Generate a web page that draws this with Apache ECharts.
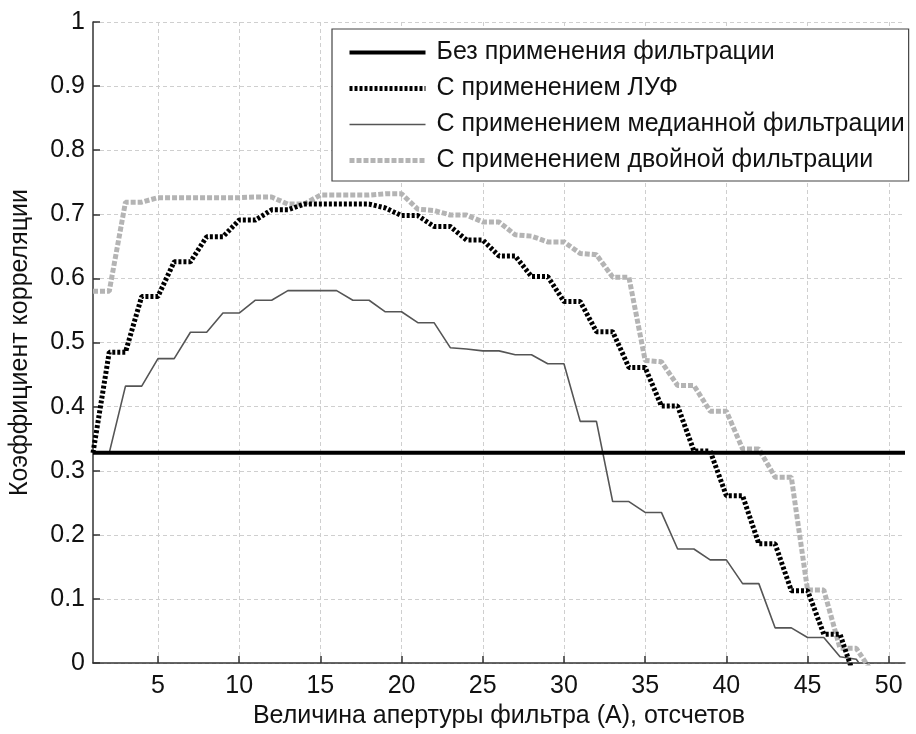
<!DOCTYPE html>
<html>
<head>
<meta charset="utf-8">
<script src="https://cdn.jsdelivr.net/npm/echarts@6/dist/echarts.min.js"></script>
<style>
html,body{margin:0;padding:0;background:#fff;}
#chart{width:916px;height:734px;}
</style>
</head>
<body>
<div id="chart"></div>
<script>
// Aperture values (x)
const apertureX = [1,2,3,4,5,6,7,8,9,10,11,12,13,14,15,16,17,18,19,20,21,22,23,24,25,26,27,28,29,30,31,32,33,34,35,36,37,38,39,40,41,42,43,44,45,46,47,48,49,50,51];
// Без применения фильтрации
const noFilter = [0.328,0.328,0.328,0.328,0.328,0.328,0.328,0.328,0.328,0.328,0.328,0.328,0.328,0.328,0.328,0.328,0.328,0.328,0.328,0.328,0.328,0.328,0.328,0.328,0.328,0.328,0.328,0.328,0.328,0.328,0.328,0.328,0.328,0.328,0.328,0.328,0.328,0.328,0.328,0.328,0.328,0.328,0.328,0.328,0.328,0.328,0.328,0.328,0.328,0.328,0.328];
// С применением ЛУФ
const lufFilter = [0.328,0.485,0.485,0.572,0.572,0.626,0.626,0.665,0.665,0.691,0.691,0.707,0.707,0.716,0.716,0.716,0.716,0.716,0.710,0.698,0.698,0.681,0.681,0.660,0.660,0.635,0.635,0.603,0.603,0.564,0.564,0.517,0.517,0.461,0.461,0.401,0.401,0.331,0.331,0.261,0.261,0.186,0.186,0.113,0.113,0.045,0.045,-0.03,null,null,null];
// С применением медианной фильтрации
const medianFilter = [0.328,0.328,0.432,0.432,0.475,0.475,0.516,0.516,0.546,0.546,0.566,0.566,0.581,0.581,0.581,0.581,0.566,0.566,0.548,0.548,0.531,0.531,0.492,0.490,0.487,0.487,0.481,0.481,0.467,0.467,0.377,0.377,0.252,0.252,0.235,0.235,0.178,0.178,0.161,0.161,0.124,0.124,0.055,0.055,0.040,0.040,0.010,0.006,-0.03,null,null];
// С применением двойной фильтрации
const doubleFilter = [0.580,0.580,0.719,0.719,0.726,0.726,0.726,0.726,0.726,0.726,0.727,0.727,0.716,0.716,0.730,0.730,0.730,0.730,0.732,0.732,0.708,0.706,0.699,0.699,0.688,0.688,0.668,0.666,0.657,0.657,0.639,0.637,0.602,0.602,0.472,0.470,0.433,0.433,0.393,0.393,0.334,0.334,0.290,0.290,0.114,0.114,0.023,0.023,-0.015,null,null];
// Tick labels
const xTickValues = [5,10,15,20,25,30,35,40,45,50];
const seriesNames = ['Без применения фильтрации','С применением ЛУФ','С применением медианной фильтрации','С применением двойной фильтрации'];
const xTitle = 'Величина апертуры фильтра (А), отсчетов';
const yTitle = 'Коэффициент корреляции';

function pairs(ys){ return apertureX.map((x,i)=>[x, ys[i]]); }

const FONT = 'Liberation Sans';
const styles = [
  {color:'#000', width:4, type:'solid', z:4},
  {color:'#000', width:5, type:[3,2], z:3},
  {color:'#555', width:1.6, type:'solid', z:1},
  {color:'#b4b4b4', width:5, type:[5,2], z:2}
];
const chart = echarts.init(document.getElementById('chart'), null, {renderer:'canvas'});
chart.setOption({
  backgroundColor:'#fff',
  animation:false,
  grid:{left:88,right:11,top:22,bottom:68,containLabel:false},
  legend:{
    orient:'vertical', left:332, top:29, z:10,
    backgroundColor:'#fff', borderColor:'#444', borderWidth:1.2, borderRadius:0,
    padding:[11,4,8,15],
    itemWidth:76, itemHeight:14, itemGap:11,
    itemStyle:{opacity:0},
    textStyle:{fontSize:25, fontFamily:FONT, color:'#111', padding:[0,0,0,6]},
    data:seriesNames.map((n,i)=>({name:n, lineStyle:{width:styles[i].width, type:styles[i].type, color:styles[i].color}}))
  },
  xAxis:{
    type:'value', min:1, max:51,
    name:xTitle, nameLocation:'middle', nameGap:40,
    nameTextStyle:{fontSize:25, fontFamily:FONT, color:'#111'},
    axisLine:{show:true, lineStyle:{color:'#333', width:1.5}},
    axisTick:{show:true, inside:true, length:7, customValues:xTickValues, lineStyle:{color:'#333', width:1.5}},
    axisLabel:{customValues:xTickValues, fontSize:25, fontFamily:FONT, color:'#111', margin:11},
    splitLine:{show:true, lineStyle:{color:'#cfcfcf', width:1, type:[4,3]}}
  },
  yAxis:{
    type:'value', min:0, max:1, interval:0.1,
    name:yTitle, nameLocation:'middle', nameGap:60, nameRotate:90,
    nameTextStyle:{fontSize:25, fontFamily:FONT, color:'#111'},
    axisLine:{show:true, lineStyle:{color:'#333', width:1.5}},
    axisTick:{show:true, inside:true, length:7, lineStyle:{color:'#333', width:1.5}},
    axisLabel:{fontSize:25, fontFamily:FONT, color:'#111', margin:8},
    splitLine:{show:true, lineStyle:{color:'#cfcfcf', width:1, type:[4,3]}}
  },
  series:[noFilter, lufFilter, medianFilter, doubleFilter].map((vals,i)=>({
    name:seriesNames[i], type:'line', data:pairs(vals), symbol:'none', z:styles[i].z,
    lineStyle:{color:styles[i].color, width:styles[i].width, type:styles[i].type},
    itemStyle:{color:styles[i].color}
  }))
});
</script>
</body>
</html>
